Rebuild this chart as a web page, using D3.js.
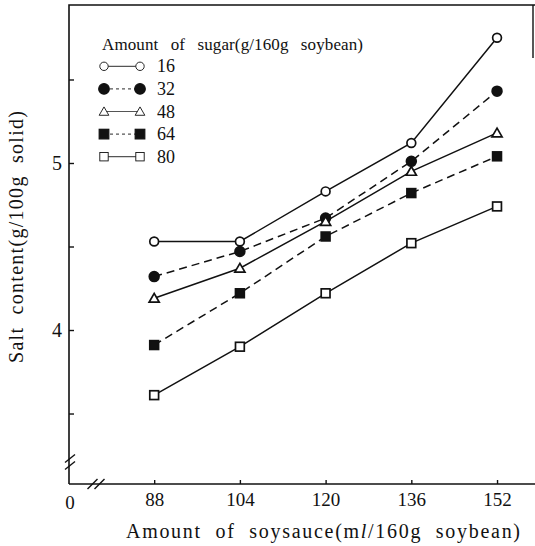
<!DOCTYPE html>
<html>
<head>
<meta charset="utf-8">
<script src="https://cdn.jsdelivr.net/npm/d3@7"></script>
<style>
  body { margin: 0; background: #fff; }
  text { font-family: "Liberation Serif", "DejaVu Serif", serif; fill: #111; }
</style>
</head>
<body>
<div id="chart"></div>
<script>
// chart data
const soysauce = [88, 104, 120, 136, 152]
const sugarLevels = ["16", "32", "48", "64", "80"]
const salt16 = [4.53, 4.53, 4.83, 5.12, 5.75]
const salt32 = [4.32, 4.47, 4.67, 5.01, 5.43]
const salt48 = [4.19, 4.37, 4.65, 4.95, 5.18]
const salt64 = [3.91, 4.22, 4.56, 4.82, 5.04]
const salt80 = [3.61, 3.90, 4.22, 4.52, 4.74]
const yTicks = [3.5, 4, 4.5, 5, 5.5]

const width = 535, height = 546
const plotLeft = 69, plotRight = 534, plotTop = 5, plotBottom = 484

const series = [
    { name: sugarLevels[0], values: salt16, marker: "circle", filled: false, dashed: false },
    { name: sugarLevels[1], values: salt32, marker: "circle", filled: true, dashed: true },
    { name: sugarLevels[2], values: salt48, marker: "triangle", filled: false, dashed: false },
    { name: sugarLevels[3], values: salt64, marker: "square", filled: true, dashed: true },
    { name: sugarLevels[4], values: salt80, marker: "square", filled: false, dashed: false }
]

let x = d3.scaleLinear().domain([72.1, 158.9]).range([plotLeft, plotRight])
let y = d3.scaleLinear().domain([3.078, 5.946]).range([plotBottom, plotTop])

let svg = d3.select('#chart')
    .append('svg')
    .attr('width', width)
    .attr('height', height)

// frame
svg.append('path')
    .attr('d', `M${plotLeft},${plotBottom}V${plotTop}H${width}`)
    .attr('fill', 'none').attr('stroke', '#111').attr('stroke-width', 1.6)
svg.append('path')
    .attr('d', `M${plotLeft},${plotBottom}H${width}`)
    .attr('fill', 'none').attr('stroke', '#111').attr('stroke-width', 1.6)
svg.append('line')
    .attr('x1', 533).attr('x2', 533).attr('y1', plotTop).attr('y2', 58)
    .attr('stroke', '#111').attr('stroke-width', 1.4)

// axes, ticks pointing inward
let yAxis = d3.axisLeft(y).tickValues(yTicks)
    .tickSizeInner(-5).tickSizeOuter(0).tickPadding(7)
    .tickFormat(d => Number.isInteger(d) ? d : "")
let gy = svg.append('g').attr('transform', `translate(${plotLeft},0)`).call(yAxis)
gy.select('.domain').remove()
gy.selectAll('line').attr('stroke', '#111').attr('stroke-width', 1.4)
gy.selectAll('text').style('font-size', '20px').attr('font-family', null)

let xAxis = d3.axisBottom(x).tickValues(soysauce)
    .tickSizeInner(-4).tickSizeOuter(0).tickPadding(9)
let gx = svg.append('g').attr('transform', `translate(0,${plotBottom})`).call(xAxis)
gx.select('.domain').remove()
gx.selectAll('line').attr('stroke', '#111').attr('stroke-width', 1.4)
gx.selectAll('text').style('font-size', '19px').attr('font-family', null)

svg.append('text')
    .attr('x', plotLeft + 1).attr('y', plotBottom + 25)
    .attr('text-anchor', 'middle')
    .style('font-size', '19px')
    .text('0')

// axis breaks
function breakMark(cx, cy) {
    [-3.5, 3.5].forEach(o => {
        svg.append('line')
            .attr('x1', cx - 5 + o).attr('y1', cy + 5)
            .attr('x2', cx + 5 + o).attr('y2', cy - 5)
            .attr('stroke', '#111').attr('stroke-width', 1.5)
    })
}
function breakMarkV(cx, cy) {
    [-3.5, 3.5].forEach(o => {
        svg.append('line')
            .attr('x1', cx - 5).attr('y1', cy + 4 + o)
            .attr('x2', cx + 5).attr('y2', cy - 4 + o)
            .attr('stroke', '#111').attr('stroke-width', 1.5)
    })
}
breakMark(96, plotBottom)
breakMarkV(plotLeft + 1, 462)

// axis titles
svg.append('text')
    .attr('transform', `translate(23,237) rotate(-90)`)
    .attr('text-anchor', 'middle')
    .attr('textLength', 252)
    .attr('lengthAdjust', 'spacing')
    .style('font-size', '20px')
    .style('word-spacing', '6px')
    .text('Salt content(g/100g solid)')

let xt = svg.append('text')
    .attr('x', 323).attr('y', 538)
    .attr('text-anchor', 'middle')
    .attr('textLength', 394)
    .attr('lengthAdjust', 'spacing')
    .style('font-size', '20px')
    .style('word-spacing', '7px')
xt.append('tspan').text('Amount of soysauce(m')
xt.append('tspan').style('font-style', 'italic').text('l')
xt.append('tspan').text('/160g soybean)')

// markers
function drawMarker(g, s, cx, cy, r, sw) {
    let fill = s.filled ? '#111' : '#fff'
    if (s.marker === 'circle') {
        g.append('circle').attr('cx', cx).attr('cy', cy).attr('r', s.filled ? r + 0.5 : r)
            .attr('fill', fill).attr('stroke', '#111').attr('stroke-width', sw)
    } else if (s.marker === 'square') {
        g.append('rect').attr('x', cx - r).attr('y', cy - r)
            .attr('width', 2 * r).attr('height', 2 * r)
            .attr('fill', fill).attr('stroke', '#111').attr('stroke-width', sw)
    } else {
        let tri = d3.symbol().type(d3.symbolTriangle).size(r * r * 2.3)
        g.append('path').attr('d', tri).attr('transform', `translate(${cx},${cy + 1})`)
            .attr('fill', fill).attr('stroke', '#111').attr('stroke-width', sw)
    }
}

let line = d3.line().x((d, i) => x(soysauce[i])).y(d => y(d))

series.forEach(s => {
    let g = svg.append('g')
    g.append('path')
        .attr('d', line(s.values))
        .attr('fill', 'none')
        .attr('stroke', '#111')
        .attr('stroke-width', 1.5)
        .attr('stroke-dasharray', s.dashed ? '8,5' : null)
    s.values.forEach((v, i) => drawMarker(g, s, x(soysauce[i]), y(v), 4.4, 1.7))
})

// legend
svg.append('text')
    .attr('x', 102).attr('y', 50)
    .attr('textLength', 261)
    .attr('lengthAdjust', 'spacing')
    .style('font-size', '17px')
    .style('word-spacing', '8px')
    .text('Amount of sugar(g/160g soybean)')

let ly = d3.scaleBand().domain(sugarLevels).range([55, 168])
series.forEach(s => {
    let cy = ly(s.name) + ly.bandwidth() / 2
    let g = svg.append('g')
    g.append('line')
        .attr('x1', 104).attr('x2', 140).attr('y1', cy).attr('y2', cy)
        .attr('stroke', '#555').attr('stroke-width', 1.2)
        .attr('stroke-dasharray', s.dashed ? '3,3' : null)
    drawMarker(g, s, 104, cy, s.filled ? 4.8 : 4.2, s.filled ? 1.2 : 0.9)
    drawMarker(g, s, 140, cy, s.filled ? 4.8 : 4.2, s.filled ? 1.2 : 0.9)
    g.append('text')
        .attr('x', 157).attr('y', cy + 6)
        .style('font-size', '18px')
        .text(s.name)
})
</script>
</body>
</html>
